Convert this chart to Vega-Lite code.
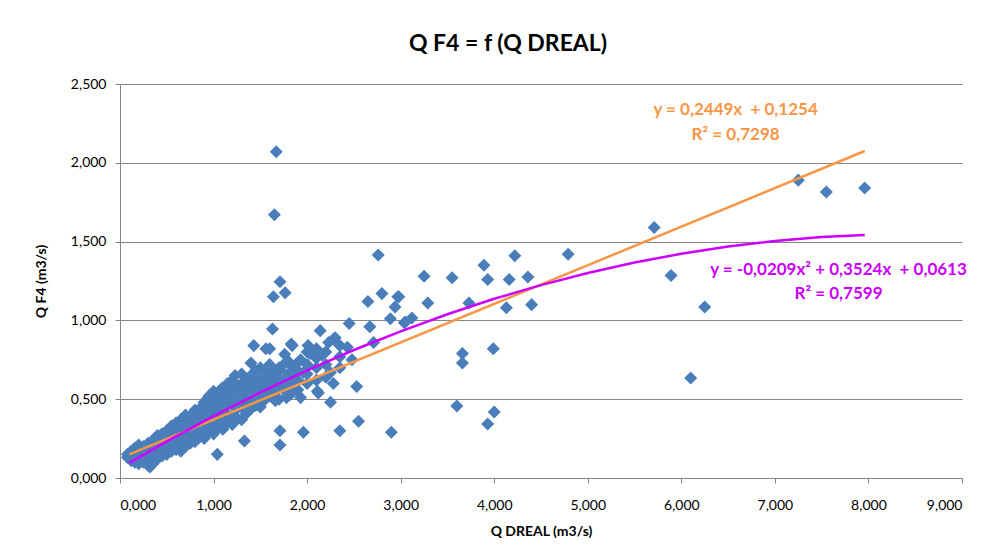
{
  "$schema": "https://vega.github.io/schema/vega-lite/v6.json",
  "autosize": {"type": "none"},
  "width": 842,
  "height": 394,
  "padding": {"left": 120, "top": 84, "right": 28, "bottom": 79},
  "background": "white",
  "config": {"view": {"stroke": null}, "font": "Lato"},
  "title": {"text": "Q F4 = f (Q DREAL)", "fontSize": 23, "fontWeight": "bold", "font": "Lato", "color": "#000000", "anchor": "middle", "dx": -33, "offset": 21},
  "datasets": {
    "pts": [
      {"q_dreal": 1.67, "q_f4": 2.07}, {"q_dreal": 1.65, "q_f4": 1.67}, {"q_dreal": 1.71, "q_f4": 1.245}, {"q_dreal": 1.64, "q_f4": 1.15},
      {"q_dreal": 1.765, "q_f4": 1.175}, {"q_dreal": 2.76, "q_f4": 1.415}, {"q_dreal": 2.80, "q_f4": 1.17}, {"q_dreal": 2.65, "q_f4": 1.12},
      {"q_dreal": 2.89, "q_f4": 1.01}, {"q_dreal": 2.94, "q_f4": 1.085}, {"q_dreal": 2.97, "q_f4": 1.15}, {"q_dreal": 2.45, "q_f4": 0.98},
      {"q_dreal": 2.67, "q_f4": 0.96}, {"q_dreal": 1.63, "q_f4": 0.945}, {"q_dreal": 2.14, "q_f4": 0.935}, {"q_dreal": 5.71, "q_f4": 1.59},
      {"q_dreal": 4.22, "q_f4": 1.41}, {"q_dreal": 4.79, "q_f4": 1.42}, {"q_dreal": 3.89, "q_f4": 1.35}, {"q_dreal": 3.25, "q_f4": 1.28},
      {"q_dreal": 3.55, "q_f4": 1.27}, {"q_dreal": 3.93, "q_f4": 1.26}, {"q_dreal": 4.16, "q_f4": 1.26}, {"q_dreal": 4.36, "q_f4": 1.275},
      {"q_dreal": 5.89, "q_f4": 1.285}, {"q_dreal": 2.98, "q_f4": 1.15}, {"q_dreal": 3.29, "q_f4": 1.11}, {"q_dreal": 3.73, "q_f4": 1.11},
      {"q_dreal": 4.13, "q_f4": 1.08}, {"q_dreal": 4.40, "q_f4": 1.10}, {"q_dreal": 6.25, "q_f4": 1.085}, {"q_dreal": 3.04, "q_f4": 0.985},
      {"q_dreal": 3.12, "q_f4": 1.015}, {"q_dreal": 3.66, "q_f4": 0.79}, {"q_dreal": 3.66, "q_f4": 0.73}, {"q_dreal": 3.99, "q_f4": 0.82},
      {"q_dreal": 6.10, "q_f4": 0.635}, {"q_dreal": 3.60, "q_f4": 0.457}, {"q_dreal": 3.93, "q_f4": 0.343}, {"q_dreal": 4.00, "q_f4": 0.419},
      {"q_dreal": 2.90, "q_f4": 0.29}, {"q_dreal": 7.25, "q_f4": 1.89}, {"q_dreal": 7.55, "q_f4": 1.815}, {"q_dreal": 7.96, "q_f4": 1.84},
      {"q_dreal": 3.05, "q_f4": 0.99},
      {"q_dreal": 1.43, "q_f4": 0.84}, {"q_dreal": 1.56, "q_f4": 0.82}, {"q_dreal": 1.83, "q_f4": 0.85}, {"q_dreal": 1.76, "q_f4": 0.785},
      {"q_dreal": 2.01, "q_f4": 0.84}, {"q_dreal": 2.28, "q_f4": 0.88}, {"q_dreal": 2.43, "q_f4": 0.83}, {"q_dreal": 2.71, "q_f4": 0.86},
      {"q_dreal": 1.40, "q_f4": 0.73}, {"q_dreal": 1.23, "q_f4": 0.65}, {"q_dreal": 1.63, "q_f4": 0.69}, {"q_dreal": 2.25, "q_f4": 0.67},
      {"q_dreal": 2.28, "q_f4": 0.60}, {"q_dreal": 2.53, "q_f4": 0.58}, {"q_dreal": 2.12, "q_f4": 0.54}, {"q_dreal": 2.25, "q_f4": 0.48},
      {"q_dreal": 1.93, "q_f4": 0.51}, {"q_dreal": 1.79, "q_f4": 0.54}, {"q_dreal": 2.55, "q_f4": 0.36}, {"q_dreal": 2.35, "q_f4": 0.30},
      {"q_dreal": 1.96, "q_f4": 0.29}, {"q_dreal": 1.71, "q_f4": 0.30}, {"q_dreal": 1.71, "q_f4": 0.21}, {"q_dreal": 1.33, "q_f4": 0.235},
      {"q_dreal": 1.04, "q_f4": 0.15}, {"q_dreal": 0.32, "q_f4": 0.07}, {"q_dreal": 2.23, "q_f4": 0.86}, {"q_dreal": 2.30, "q_f4": 0.89},
      {"q_dreal": 1.93, "q_f4": 0.75}, {"q_dreal": 2.03, "q_f4": 0.79}, {"q_dreal": 2.16, "q_f4": 0.78}, {"q_dreal": 1.71, "q_f4": 0.685},
      {"q_dreal": 1.57, "q_f4": 0.64}, {"q_dreal": 1.50, "q_f4": 0.58}, {"q_dreal": 1.37, "q_f4": 0.59}, {"q_dreal": 1.26, "q_f4": 0.56},
      {"q_dreal": 1.96, "q_f4": 0.67}, {"q_dreal": 2.11, "q_f4": 0.55}, {"q_dreal": 1.78, "q_f4": 0.51}, {"q_dreal": 1.66, "q_f4": 0.49},
      {"q_dreal": 1.09, "q_f4": 0.57}, {"q_dreal": 0.93, "q_f4": 0.50}, {"q_dreal": 1.60, "q_f4": 0.82}, {"q_dreal": 2.48, "q_f4": 0.75},
      {"q_dreal": 1.87, "q_f4": 0.665}, {"q_dreal": 1.82, "q_f4": 0.53}, {"q_dreal": 1.52, "q_f4": 0.48}, {"q_dreal": 1.21, "q_f4": 0.35},
      {"q_dreal": 1.84, "q_f4": 0.84}, {"q_dreal": 2.12, "q_f4": 0.78}, {"q_dreal": 1.39, "q_f4": 0.64}, {"q_dreal": 1.64, "q_f4": 0.67},
      {"q_dreal": 0.08, "q_f4": 0.13}, {"q_dreal": 0.08, "q_f4": 0.15},
      {"q_dreal": 0.12, "q_f4": 0.11}, {"q_dreal": 0.12, "q_f4": 0.14}, {"q_dreal": 0.12, "q_f4": 0.17},
      {"q_dreal": 0.16, "q_f4": 0.10}, {"q_dreal": 0.16, "q_f4": 0.13}, {"q_dreal": 0.16, "q_f4": 0.16}, {"q_dreal": 0.16, "q_f4": 0.19},
      {"q_dreal": 0.2, "q_f4": 0.09}, {"q_dreal": 0.2, "q_f4": 0.12}, {"q_dreal": 0.2, "q_f4": 0.15}, {"q_dreal": 0.2, "q_f4": 0.18}, {"q_dreal": 0.2, "q_f4": 0.21},
      {"q_dreal": 0.25, "q_f4": 0.10}, {"q_dreal": 0.25, "q_f4": 0.14}, {"q_dreal": 0.25, "q_f4": 0.17}, {"q_dreal": 0.25, "q_f4": 0.20},
      {"q_dreal": 0.3, "q_f4": 0.08}, {"q_dreal": 0.3, "q_f4": 0.11}, {"q_dreal": 0.3, "q_f4": 0.15}, {"q_dreal": 0.3, "q_f4": 0.19}, {"q_dreal": 0.3, "q_f4": 0.22},
      {"q_dreal": 0.35, "q_f4": 0.09}, {"q_dreal": 0.35, "q_f4": 0.13}, {"q_dreal": 0.35, "q_f4": 0.17}, {"q_dreal": 0.35, "q_f4": 0.21}, {"q_dreal": 0.35, "q_f4": 0.24},
      {"q_dreal": 0.4, "q_f4": 0.12}, {"q_dreal": 0.4, "q_f4": 0.16}, {"q_dreal": 0.4, "q_f4": 0.20}, {"q_dreal": 0.4, "q_f4": 0.24}, {"q_dreal": 0.4, "q_f4": 0.27},
      {"q_dreal": 0.45, "q_f4": 0.14}, {"q_dreal": 0.45, "q_f4": 0.18}, {"q_dreal": 0.45, "q_f4": 0.22}, {"q_dreal": 0.45, "q_f4": 0.26}, {"q_dreal": 0.45, "q_f4": 0.28},
      {"q_dreal": 0.5, "q_f4": 0.15}, {"q_dreal": 0.5, "q_f4": 0.19}, {"q_dreal": 0.5, "q_f4": 0.23}, {"q_dreal": 0.5, "q_f4": 0.27}, {"q_dreal": 0.5, "q_f4": 0.30},
      {"q_dreal": 0.55, "q_f4": 0.17}, {"q_dreal": 0.55, "q_f4": 0.21}, {"q_dreal": 0.55, "q_f4": 0.25}, {"q_dreal": 0.55, "q_f4": 0.29}, {"q_dreal": 0.55, "q_f4": 0.33},
      {"q_dreal": 0.6, "q_f4": 0.18}, {"q_dreal": 0.6, "q_f4": 0.22}, {"q_dreal": 0.6, "q_f4": 0.26}, {"q_dreal": 0.6, "q_f4": 0.30}, {"q_dreal": 0.6, "q_f4": 0.35},
      {"q_dreal": 0.65, "q_f4": 0.17}, {"q_dreal": 0.65, "q_f4": 0.24}, {"q_dreal": 0.65, "q_f4": 0.28}, {"q_dreal": 0.65, "q_f4": 0.32}, {"q_dreal": 0.65, "q_f4": 0.37},
      {"q_dreal": 0.7, "q_f4": 0.20}, {"q_dreal": 0.7, "q_f4": 0.25}, {"q_dreal": 0.7, "q_f4": 0.30}, {"q_dreal": 0.7, "q_f4": 0.34}, {"q_dreal": 0.7, "q_f4": 0.40},
      {"q_dreal": 0.75, "q_f4": 0.22}, {"q_dreal": 0.75, "q_f4": 0.27}, {"q_dreal": 0.75, "q_f4": 0.32}, {"q_dreal": 0.75, "q_f4": 0.36}, {"q_dreal": 0.75, "q_f4": 0.39},
      {"q_dreal": 0.8, "q_f4": 0.23}, {"q_dreal": 0.8, "q_f4": 0.28}, {"q_dreal": 0.8, "q_f4": 0.33}, {"q_dreal": 0.8, "q_f4": 0.38}, {"q_dreal": 0.8, "q_f4": 0.43},
      {"q_dreal": 0.85, "q_f4": 0.26}, {"q_dreal": 0.85, "q_f4": 0.30}, {"q_dreal": 0.85, "q_f4": 0.35}, {"q_dreal": 0.85, "q_f4": 0.40}, {"q_dreal": 0.85, "q_f4": 0.44},
      {"q_dreal": 0.9, "q_f4": 0.25}, {"q_dreal": 0.9, "q_f4": 0.30}, {"q_dreal": 0.9, "q_f4": 0.36}, {"q_dreal": 0.9, "q_f4": 0.42}, {"q_dreal": 0.9, "q_f4": 0.48},
      {"q_dreal": 0.95, "q_f4": 0.29}, {"q_dreal": 0.95, "q_f4": 0.33}, {"q_dreal": 0.95, "q_f4": 0.38}, {"q_dreal": 0.95, "q_f4": 0.44}, {"q_dreal": 0.95, "q_f4": 0.52},
      {"q_dreal": 1.0, "q_f4": 0.28}, {"q_dreal": 1.0, "q_f4": 0.34}, {"q_dreal": 1.0, "q_f4": 0.40}, {"q_dreal": 1.0, "q_f4": 0.46}, {"q_dreal": 1.0, "q_f4": 0.50}, {"q_dreal": 1.0, "q_f4": 0.55},
      {"q_dreal": 1.05, "q_f4": 0.32}, {"q_dreal": 1.05, "q_f4": 0.37}, {"q_dreal": 1.05, "q_f4": 0.42}, {"q_dreal": 1.05, "q_f4": 0.48}, {"q_dreal": 1.05, "q_f4": 0.54},
      {"q_dreal": 1.1, "q_f4": 0.31}, {"q_dreal": 1.1, "q_f4": 0.36}, {"q_dreal": 1.1, "q_f4": 0.44}, {"q_dreal": 1.1, "q_f4": 0.50}, {"q_dreal": 1.1, "q_f4": 0.57},
      {"q_dreal": 1.15, "q_f4": 0.35}, {"q_dreal": 1.15, "q_f4": 0.40}, {"q_dreal": 1.15, "q_f4": 0.46}, {"q_dreal": 1.15, "q_f4": 0.52}, {"q_dreal": 1.15, "q_f4": 0.60},
      {"q_dreal": 1.2, "q_f4": 0.34}, {"q_dreal": 1.2, "q_f4": 0.40}, {"q_dreal": 1.2, "q_f4": 0.47}, {"q_dreal": 1.2, "q_f4": 0.55}, {"q_dreal": 1.2, "q_f4": 0.62},
      {"q_dreal": 1.25, "q_f4": 0.38}, {"q_dreal": 1.25, "q_f4": 0.44}, {"q_dreal": 1.25, "q_f4": 0.50}, {"q_dreal": 1.25, "q_f4": 0.58},
      {"q_dreal": 1.3, "q_f4": 0.37}, {"q_dreal": 1.3, "q_f4": 0.45}, {"q_dreal": 1.3, "q_f4": 0.52}, {"q_dreal": 1.3, "q_f4": 0.60}, {"q_dreal": 1.3, "q_f4": 0.66},
      {"q_dreal": 1.35, "q_f4": 0.41}, {"q_dreal": 1.35, "q_f4": 0.48}, {"q_dreal": 1.35, "q_f4": 0.55}, {"q_dreal": 1.35, "q_f4": 0.62},
      {"q_dreal": 1.4, "q_f4": 0.44}, {"q_dreal": 1.4, "q_f4": 0.50}, {"q_dreal": 1.4, "q_f4": 0.57}, {"q_dreal": 1.4, "q_f4": 0.65},
      {"q_dreal": 1.45, "q_f4": 0.46}, {"q_dreal": 1.45, "q_f4": 0.53}, {"q_dreal": 1.45, "q_f4": 0.60}, {"q_dreal": 1.45, "q_f4": 0.68},
      {"q_dreal": 1.5, "q_f4": 0.45}, {"q_dreal": 1.5, "q_f4": 0.52}, {"q_dreal": 1.5, "q_f4": 0.63}, {"q_dreal": 1.5, "q_f4": 0.70},
      {"q_dreal": 1.55, "q_f4": 0.50}, {"q_dreal": 1.55, "q_f4": 0.56}, {"q_dreal": 1.55, "q_f4": 0.62}, {"q_dreal": 1.55, "q_f4": 0.68},
      {"q_dreal": 1.6, "q_f4": 0.52}, {"q_dreal": 1.6, "q_f4": 0.59}, {"q_dreal": 1.6, "q_f4": 0.65}, {"q_dreal": 1.6, "q_f4": 0.72},
      {"q_dreal": 1.65, "q_f4": 0.55}, {"q_dreal": 1.65, "q_f4": 0.61},
      {"q_dreal": 1.7, "q_f4": 0.50}, {"q_dreal": 1.7, "q_f4": 0.58}, {"q_dreal": 1.7, "q_f4": 0.63}, {"q_dreal": 1.7, "q_f4": 0.70},
      {"q_dreal": 1.75, "q_f4": 0.56}, {"q_dreal": 1.75, "q_f4": 0.62}, {"q_dreal": 1.75, "q_f4": 0.72},
      {"q_dreal": 1.8, "q_f4": 0.55}, {"q_dreal": 1.8, "q_f4": 0.60}, {"q_dreal": 1.8, "q_f4": 0.66}, {"q_dreal": 1.8, "q_f4": 0.74},
      {"q_dreal": 1.85, "q_f4": 0.58}, {"q_dreal": 1.85, "q_f4": 0.64}, {"q_dreal": 1.85, "q_f4": 0.70},
      {"q_dreal": 1.9, "q_f4": 0.56}, {"q_dreal": 1.9, "q_f4": 0.62}, {"q_dreal": 1.9, "q_f4": 0.68}, {"q_dreal": 1.9, "q_f4": 0.73},
      {"q_dreal": 2.0, "q_f4": 0.60}, {"q_dreal": 2.0, "q_f4": 0.66}, {"q_dreal": 2.0, "q_f4": 0.72}, {"q_dreal": 2.0, "q_f4": 0.80},
      {"q_dreal": 2.1, "q_f4": 0.62}, {"q_dreal": 2.1, "q_f4": 0.70}, {"q_dreal": 2.1, "q_f4": 0.76}, {"q_dreal": 2.1, "q_f4": 0.82},
      {"q_dreal": 2.2, "q_f4": 0.64}, {"q_dreal": 2.2, "q_f4": 0.72}, {"q_dreal": 2.2, "q_f4": 0.80},
      {"q_dreal": 2.35, "q_f4": 0.70}, {"q_dreal": 2.35, "q_f4": 0.77}, {"q_dreal": 2.35, "q_f4": 0.84}
    ],
    "lin": [
      {"q_dreal": 0.1, "q_f4": 0.15}, {"q_dreal": 7.96, "q_f4": 2.075}
    ],
    "poly": [
      {"q_dreal": 0.1, "q_f4": 0.096}, {"q_dreal": 0.5, "q_f4": 0.232}, {"q_dreal": 1.0, "q_f4": 0.393}, {"q_dreal": 1.5, "q_f4": 0.543},
      {"q_dreal": 2.0, "q_f4": 0.683}, {"q_dreal": 2.5, "q_f4": 0.812}, {"q_dreal": 3.0, "q_f4": 0.930}, {"q_dreal": 3.5, "q_f4": 1.039},
      {"q_dreal": 4.0, "q_f4": 1.137}, {"q_dreal": 4.5, "q_f4": 1.224}, {"q_dreal": 5.0, "q_f4": 1.301}, {"q_dreal": 5.5, "q_f4": 1.367},
      {"q_dreal": 6.0, "q_f4": 1.423}, {"q_dreal": 6.5, "q_f4": 1.469}, {"q_dreal": 7.0, "q_f4": 1.504}, {"q_dreal": 7.5, "q_f4": 1.529},
      {"q_dreal": 7.96, "q_f4": 1.542}
    ],
    "labels": [
      {"q_dreal": 6.58, "q_f4": 2.335, "text": "y = 0,2449x \u00a0+ 0,1254", "series": "lin"},
      {"q_dreal": 6.58, "q_f4": 2.176, "text": "R² = 0,7298", "series": "lin"},
      {"q_dreal": 7.68, "q_f4": 1.32, "text": "y = -0,0209x² + 0,3524x \u00a0+ 0,0613", "series": "poly"},
      {"q_dreal": 7.68, "q_f4": 1.167, "text": "R² = 0,7599", "series": "poly"}
    ]
  },
  "encoding": {
    "x": {"field": "q_dreal", "type": "quantitative", "scale": {"domain": [0, 9], "nice": false},
      "axis": {"title": "Q DREAL (m3/s)", "values": [0, 1, 2, 3, 4, 5, 6, 7, 8, 9], "labelExpr": "replace(format(datum.value, '.3f'), '.', ',')",
        "grid": false, "domainColor": "#868686", "tickColor": "#868686", "tickSize": 5, "labelPadding": 15, "labelFontSize": 14, "labelColor": "#000000",
        "titleFontSize": 14, "titleFontWeight": "bold", "titleColor": "#000000", "titlePadding": 12, "labelFont": "Lato", "titleFont": "Lato"}},
    "y": {"field": "q_f4", "type": "quantitative", "scale": {"domain": [0, 2.5], "nice": false},
      "axis": {"title": "Q F4 (m3/s)", "values": [0, 0.5, 1, 1.5, 2, 2.5], "labelExpr": "replace(format(datum.value, '.3f'), '.', ',')",
        "grid": true, "gridColor": "#868686", "gridWidth": 1, "domainColor": "#868686", "tickColor": "#868686", "tickSize": 5, "labelPadding": 9,
        "labelFontSize": 14, "labelColor": "#000000", "titleFontSize": 14, "titleFontWeight": "bold", "titleColor": "#000000", "titlePadding": 22,
        "labelFont": "Lato", "titleFont": "Lato"}}
  },
  "layer": [
    {"data": {"name": "pts"}, "mark": {"type": "point", "shape": "diamond", "filled": true, "size": 170, "color": "#4A7EBB", "opacity": 1}},
    {"data": {"name": "lin"}, "mark": {"type": "line", "color": "#F79646", "strokeWidth": 2.5}},
    {"data": {"name": "poly"}, "mark": {"type": "line", "color": "#CC00FF", "strokeWidth": 2.5}},
    {"data": {"name": "labels"}, "mark": {"type": "text", "fontWeight": "bold", "fontSize": 17, "font": "Lato", "align": "center", "baseline": "middle"},
      "encoding": {"text": {"field": "text", "type": "nominal"},
        "color": {"field": "series", "type": "nominal", "scale": {"domain": ["lin", "poly"], "range": ["#F79646", "#CC00FF"]}, "legend": null}}}
  ]
}
